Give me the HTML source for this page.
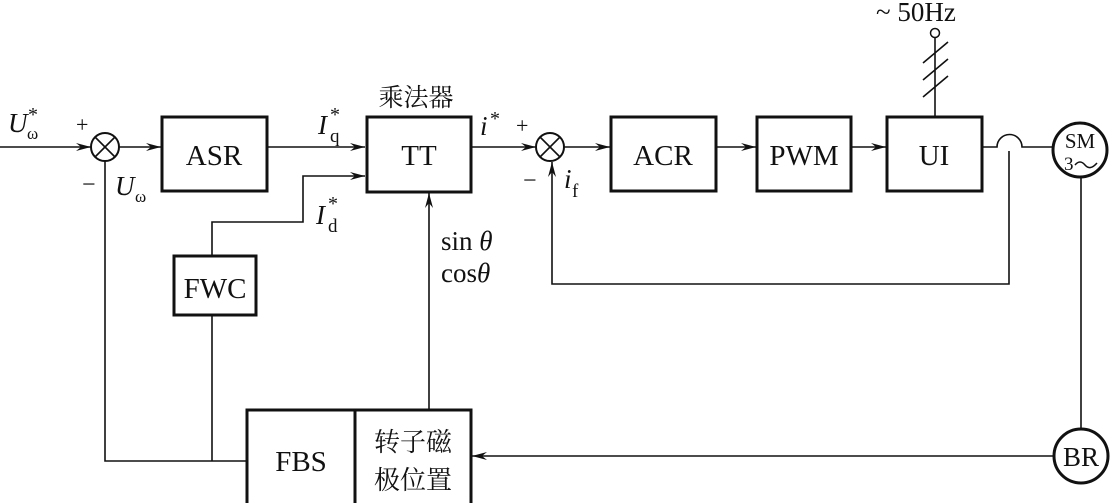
<!DOCTYPE html>
<html><head><meta charset="utf-8"><style>
body{margin:0;background:#fff}
svg{display:block}
text{font-family:"Liberation Serif","Noto Serif CJK SC",serif;fill:#111}
.cj{font-family:"Liberation Serif","Noto Serif CJK SC",serif}
</style></head><body>
<svg width="1114" height="503" viewBox="0 0 1114 503" xmlns="http://www.w3.org/2000/svg">
<defs>
<marker id="a" markerWidth="16" markerHeight="8" refX="15" refY="4" orient="auto" markerUnits="userSpaceOnUse">
<path d="M0,0 L15,4 L0,8 L5,4 Z" fill="#111"/>
</marker>
</defs>
<g stroke="#111" fill="none" stroke-width="1.6">
<line x1="0" y1="147" x2="91" y2="147" marker-end="url(#a)"/>
<circle cx="105" cy="147" r="14" stroke-width="2"/>
<line x1="95" y1="137" x2="115" y2="157"/><line x1="115" y1="137" x2="95" y2="157"/>
<line x1="119" y1="147" x2="161" y2="147" marker-end="url(#a)"/>
<line x1="267" y1="147" x2="365" y2="147" marker-end="url(#a)"/>
<line x1="471" y1="147" x2="536" y2="147" marker-end="url(#a)"/>
<circle cx="550" cy="147" r="14" stroke-width="2"/>
<line x1="540" y1="137" x2="560" y2="157"/><line x1="560" y1="137" x2="540" y2="157"/>
<line x1="564" y1="147" x2="610" y2="147" marker-end="url(#a)"/>
<line x1="716" y1="147" x2="756" y2="147" marker-end="url(#a)"/>
<line x1="851" y1="147" x2="886" y2="147" marker-end="url(#a)"/>
<path d="M982,147 H997 A12.5,12.5 0 0 1 1022,147 H1053"/>
<path d="M1009,151 V284 H552 V162" marker-end="url(#a)"/>
<path d="M105,161 V461 H246"/>
<path d="M212,315 V461"/>
<path d="M212,255 V222 H303 V176 H365" marker-end="url(#a)"/>
<line x1="429" y1="410" x2="429" y2="193" marker-end="url(#a)"/>
<line x1="1081" y1="177" x2="1081" y2="429"/>
<line x1="1053" y1="456" x2="472" y2="456" marker-end="url(#a)"/>
<line x1="935" y1="117" x2="935" y2="37"/>
<circle cx="935" cy="33" r="4.5" stroke-width="1.5"/>
<line x1="923" y1="63" x2="948" y2="42"/>
<line x1="923" y1="80" x2="948" y2="59"/>
<line x1="923" y1="97" x2="948" y2="76"/>
</g>
<g stroke="#111" fill="#fff" stroke-width="3">
<rect x="162" y="117" width="105" height="74"/>
<rect x="367" y="117" width="104" height="75"/>
<rect x="611" y="117" width="105" height="74"/>
<rect x="757" y="117" width="94" height="74"/>
<rect x="887" y="117" width="95" height="74"/>
<rect x="174" y="256" width="82" height="59"/>
<rect x="247" y="410" width="224" height="95"/>
<circle cx="1080" cy="150" r="27"/>
<circle cx="1081" cy="456" r="27"/>
</g>
<line x1="355" y1="410" x2="355" y2="503" stroke="#111" stroke-width="3"/>
<g font-size="29" text-anchor="middle">
<text x="214" y="165">ASR</text>
<text x="419" y="165">TT</text>
<text x="663" y="165">ACR</text>
<text x="804" y="165">PWM</text>
<text x="934" y="165">UI</text>
<text x="215" y="298">FWC</text>
<text x="301" y="471">FBS</text>
<text x="1081" y="466" font-size="27">BR</text>
<text x="1080" y="148" font-size="21">SM</text>
</g>
<text x="1064" y="170" font-size="19">3</text>
<path d="M1075,165 q5,-6 10,0 t12,-2" stroke="#111" fill="none" stroke-width="1.5"/>
<text class="cj" x="413" y="451" font-size="26" text-anchor="middle">转子磁</text>
<text class="cj" x="413" y="489" font-size="26" text-anchor="middle">极位置</text>
<text class="cj" x="416" y="106" font-size="25" text-anchor="middle">乘法器</text>
<text x="876" y="21" font-size="27">~ 50Hz</text>
<g font-size="27">
<text x="8" y="132" font-style="italic">U</text><text x="27" y="139" font-size="17">ω</text><text x="28" y="121" font-size="20">*</text>
<text x="76" y="132" font-size="22">+</text>
<text x="82" y="192" font-size="24">−</text>
<text x="115" y="195" font-style="italic">U</text><text x="135" y="202" font-size="17">ω</text>
<text x="318" y="134" font-style="italic">I</text><text x="330" y="142" font-size="19">q</text><text x="330" y="121" font-size="20">*</text>
<text x="316" y="224" font-style="italic">I</text><text x="328" y="232" font-size="19">d</text><text x="328" y="210" font-size="20">*</text>
<text x="480" y="135" font-style="italic">i</text><text x="490" y="125" font-size="20">*</text>
<text x="516" y="133" font-size="22">+</text>
<text x="523" y="188" font-size="24">−</text>
<text x="564" y="188" font-style="italic">i</text><text x="572" y="197" font-size="19">f</text>
<text x="441" y="250">sin <tspan font-style="italic">θ</tspan></text>
<text x="441" y="282">cos<tspan font-style="italic">θ</tspan></text>
</g>
</svg>
</body></html>
